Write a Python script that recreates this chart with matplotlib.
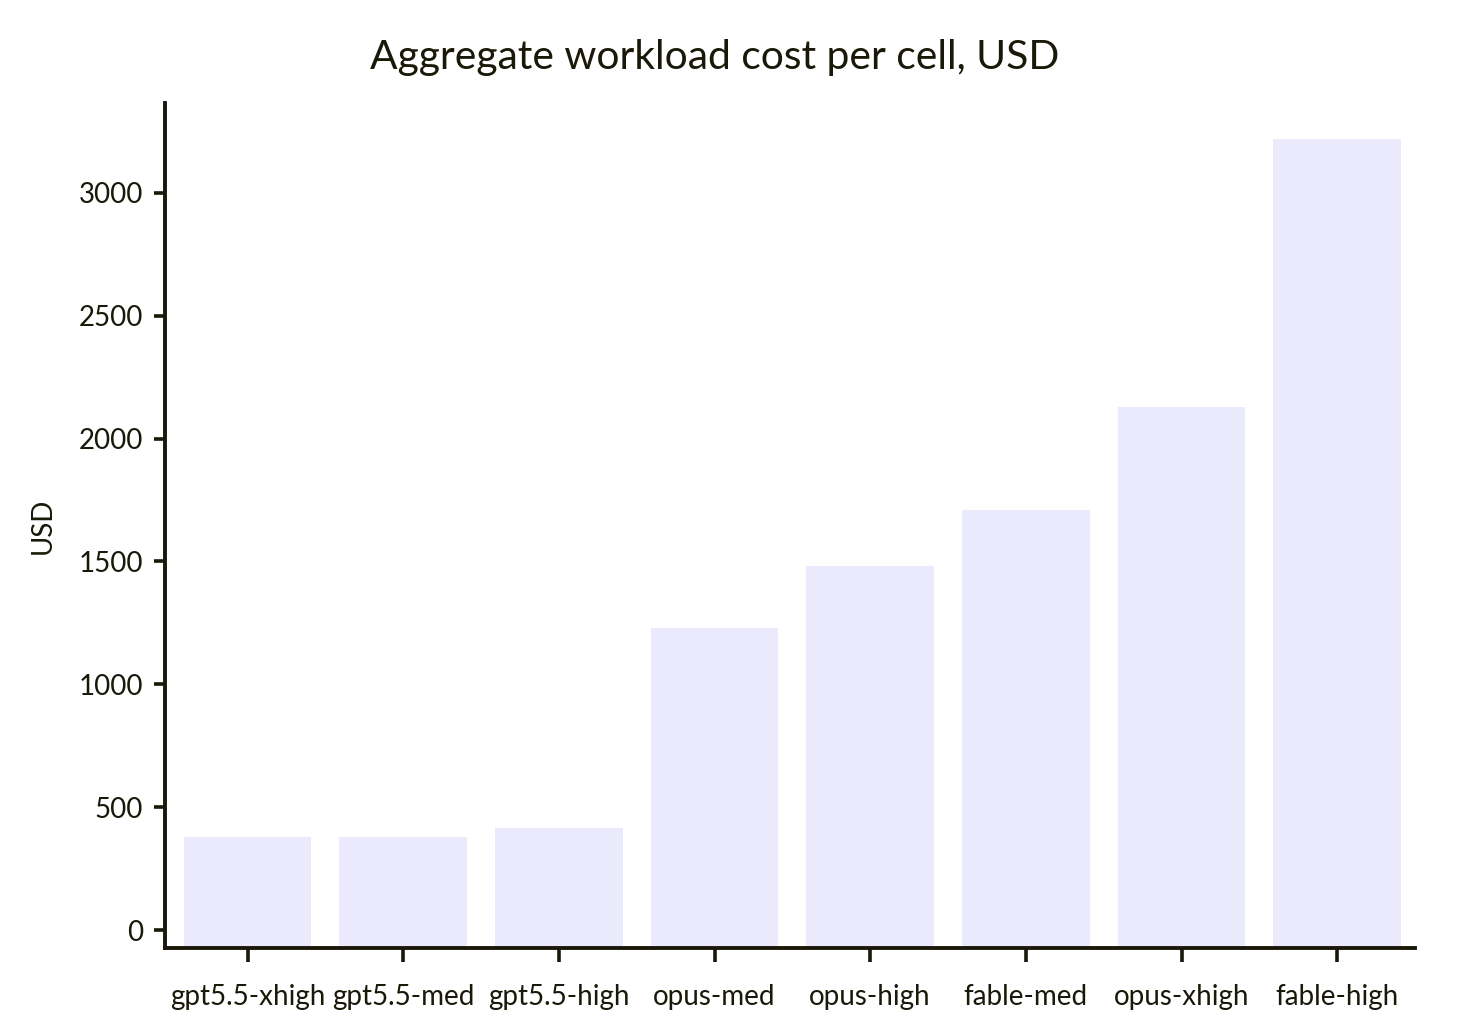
import matplotlib
matplotlib.use("Agg")
import matplotlib.pyplot as plt

categories = ["gpt5.5-xhigh", "gpt5.5-med", "gpt5.5-high", "opus-med",
              "opus-high", "fable-med", "opus-xhigh", "fable-high"]
costs_usd = [378, 378, 415, 1229, 1481, 1709, 2129, 3219]
yticks = [0, 500, 1000, 1500, 2000, 2500, 3000]

TEXT = "#1a1808"
BAR = "#EAEAFC"
plt.rcParams['font.family'] = ['Lato', 'DejaVu Sans']

fig = plt.figure(figsize=(7.42, 5.16), dpi=200)
ax = fig.add_axes([165/1484, 1-948/1032, (1415-165)/1484, (948-103)/1032])

ymin, ymax = -73, 3366
x = list(range(len(categories)))
ax.bar(x, [v - ymin for v in costs_usd], bottom=ymin, width=0.82, color=BAR)
ax.set_ylim(ymin, ymax)
ax.set_xlim(-0.53, 7.5)
ax.set_xticks(x)
ax.set_xticklabels(categories)
ax.set_yticks(yticks)
for s in ["top", "right"]:
    ax.spines[s].set_visible(False)
for s in ["left", "bottom"]:
    ax.spines[s].set_color(TEXT)
    ax.spines[s].set_linewidth(1.4)
ax.tick_params(axis='both', colors=TEXT, labelcolor=TEXT, labelsize=10, width=1.3)
ax.tick_params(axis='x', length=5, pad=8)
ax.tick_params(axis='y', length=4, pad=4)
ax.set_ylabel("USD", color=TEXT, fontsize=10, labelpad=8)
fig.text(715/1484, 1-57/1032, "Aggregate workload cost per cell, USD",
         ha='center', va='center', fontsize=14.7, color=TEXT)
fig.savefig("out.png", dpi=200)
